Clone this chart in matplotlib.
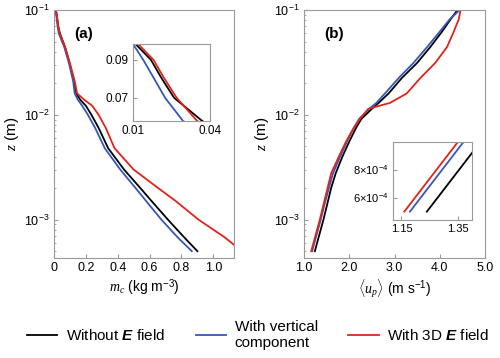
import numpy as np
import matplotlib.pyplot as plt
from matplotlib.ticker import FixedLocator, FixedFormatter, NullLocator

plt.rcParams['font.family'] = ['Liberation Sans', 'DejaVu Sans']
plt.rcParams['mathtext.fontset'] = 'custom'
plt.rcParams['mathtext.rm'] = 'Liberation Sans'
plt.rcParams['mathtext.it'] = 'Liberation Serif:italic'
plt.rcParams['mathtext.bf'] = 'Liberation Sans:bold:italic'

# panel (a): particle mass concentration profiles
z_a = [0.1, 0.09, 0.08, 0.07, 0.06, 0.044, 0.031, 0.021, 0.016, 0.0139,
       0.0122, 0.01, 0.0075, 0.0048, 0.003, 0.002, 0.0015, 0.001, 0.00068, 0.0005]
mc_none = [0.011, 0.017, 0.021, 0.026, 0.037, 0.07, 0.098, 0.125, 0.14, 0.165,
           0.2, 0.235, 0.28, 0.34, 0.44, 0.542, 0.613, 0.715, 0.816, 0.9]
mc_vert = [0.010, 0.014, 0.018, 0.0225, 0.0295, 0.065, 0.094, 0.12, 0.13, 0.15,
           0.177, 0.213, 0.258, 0.319, 0.416, 0.512, 0.579, 0.674, 0.775, 0.865]
mc_3d = [0.012, 0.018, 0.022, 0.027, 0.035, 0.07, 0.1, 0.13, 0.145, 0.19,
         0.24, 0.28, 0.325, 0.38, 0.50, 0.654, 0.765, 0.907, 1.07, 1.18]

# panel (b): mean particle velocity profiles
z_b = [0.0005, 0.001, 0.00133, 0.002, 0.00276, 0.004, 0.00567, 0.0075, 0.00916,
       0.0114, 0.013, 0.016, 0.0224, 0.0313, 0.0443, 0.0622, 0.0816, 0.1]
up_none = [1.24, 1.43, 1.5, 1.6, 1.7, 1.85, 2.01, 2.15, 2.27,
           2.5, 2.65, 2.87, 3.16, 3.5, 3.79, 4.05, 4.24, 4.39]
up_vert = [1.18, 1.37, 1.44, 1.55, 1.64, 1.8, 1.96, 2.1, 2.22,
           2.44, 2.6, 2.79, 3.09, 3.42, 3.72, 4.0, 4.22, 4.44]
up_3d = [1.16, 1.35, 1.42, 1.52, 1.6, 1.77, 1.94, 2.1, 2.24,
         2.42, 2.9, 3.27, 3.57, 3.9, 4.16, 4.31, 4.42, 4.46]

labels = [r'Without $\mathbf{E}$ field', 'With vertical\ncomponent',
          r'With 3D $\mathbf{E}$ field']
colors = ['black', '#3557b7', '#e2231a']
SPINE = '#9a9a9a'


def style(ax, size=8.5):
    for s in ax.spines.values():
        s.set_color(SPINE)
        s.set_linewidth(0.8)
    ax.tick_params(which='both', direction='in', color=SPINE, labelsize=size,
                   top=False, right=False, pad=3)
    ax.tick_params(which='major', length=3)
    ax.tick_params(which='minor', length=1.5)


fig = plt.figure(figsize=(5.0, 3.58), dpi=100)
ax_a = fig.add_axes([0.108, 0.2793, 0.36, 0.6927])
ax_b = fig.add_axes([0.608, 0.2793, 0.362, 0.6927])
in_a = fig.add_axes([0.266, 0.662, 0.154, 0.215])
in_b = fig.add_axes([0.786, 0.3855, 0.158, 0.218])

series_a = [mc_none, mc_vert, mc_3d]
series_b = [up_none, up_vert, up_3d]

for ax in (ax_a, in_a):
    for m, c in zip(series_a, colors):
        ax.plot(m, z_a, color=c, lw=1.3)
for ax in (ax_b, in_b):
    for u, c, lab in zip(series_b, colors, labels):
        ax.plot(u, z_b, color=c, lw=1.3, label=lab)

# main axes
for ax in (ax_a, ax_b):
    ax.set_yscale('log')
    ax.set_ylim(4.3e-4, 0.1)
    ax.set_ylabel(r'$z$ (m)', fontsize=11, labelpad=2)
    style(ax, 9)

ax_a.set_xlim(0, 1.13)
ax_a.set_xticks([0, 0.2, 0.4, 0.6, 0.8, 1.0])
ax_a.set_xticklabels(['0', '0.2', '0.4', '0.6', '0.8', '1.0'])
ax_a.set_xlabel(r'$m_c$ (kg m$^{-3}$)', fontsize=10, labelpad=2)
ax_a.text(0.11, 0.93, '(a)', transform=ax_a.transAxes, fontsize=11,
          fontweight='bold', va='top')

ax_b.set_xlim(1.0, 5.0)
ax_b.set_xticks([1, 2, 3, 4, 5])
ax_b.set_xticklabels(['1.0', '2.0', '3.0', '4.0', '5.0'])
ax_b.set_xlabel(r'$\langle u_p \rangle$ (m s$^{-1}$)', fontsize=10, labelpad=2)
ax_b.text(0.11, 0.93, '(b)', transform=ax_b.transAxes, fontsize=11,
          fontweight='bold', va='top')

# inset (a)
in_a.set_yscale('log')
in_a.set_xlim(0.01, 0.04)
in_a.set_ylim(0.06, 0.1)
in_a.xaxis.set_major_locator(FixedLocator([0.01, 0.04]))
in_a.xaxis.set_major_formatter(FixedFormatter(['0.01', '0.04']))
in_a.yaxis.set_major_locator(FixedLocator([0.07, 0.09]))
in_a.yaxis.set_major_formatter(FixedFormatter(['0.07', '0.09']))
in_a.yaxis.set_minor_locator(NullLocator())
in_a.yaxis.set_minor_formatter(FixedFormatter([]))
style(in_a, 8.5)

# inset (b)
in_b.set_xlim(1.12, 1.40)
in_b.set_ylim(4.4e-4, 1e-3)
in_b.xaxis.set_major_locator(FixedLocator([1.15, 1.35]))
in_b.xaxis.set_major_formatter(FixedFormatter(['1.15', '1.35']))
in_b.yaxis.set_major_locator(FixedLocator([6e-4, 8e-4]))
in_b.yaxis.set_major_formatter(FixedFormatter([r'6$\times$10$^{-4}$',
                                               r'8$\times$10$^{-4}$']))
style(in_b, 8)

handles, labs = ax_b.get_legend_handles_labels()
fig.legend(handles, labs, loc='center', ncol=3, bbox_to_anchor=(0.516, 0.065),
           frameon=False, fontsize=11, handlelength=2.0, columnspacing=2.0,
           handletextpad=0.55, labelspacing=0.2)

fig.savefig('out.png', dpi=100)
